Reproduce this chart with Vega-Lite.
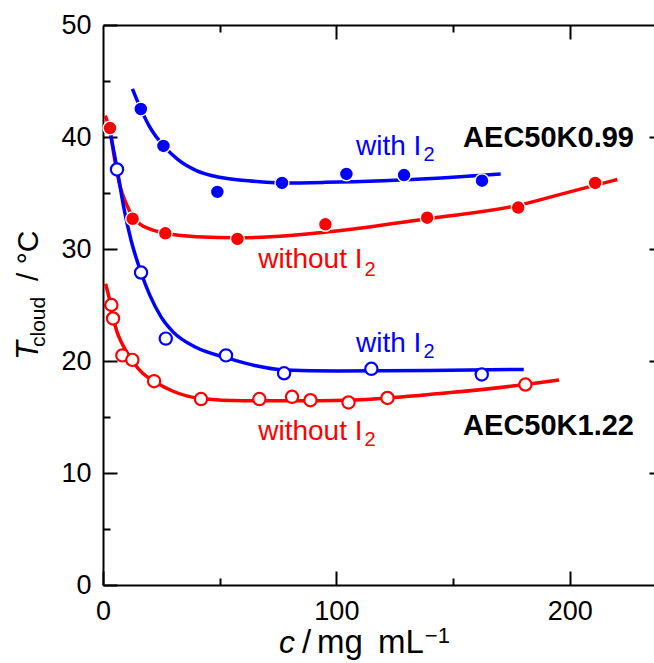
{
  "$schema": "https://vega.github.io/schema/vega-lite/v6.json",
  "width": 551,
  "height": 560,
  "autosize": {"type": "none"},
  "padding": {"left": 103, "top": 25, "right": 0, "bottom": 78},
  "background": "white",
  "config": {
    "view": {"stroke": null},
    "font": "Liberation Sans",
    "axis": {
      "grid": false,
      "domainColor": "black",
      "domainWidth": 2,
      "tickColor": "black",
      "tickWidth": 2,
      "labelColor": "black",
      "labelFont": "Liberation Sans",
      "labelFontSize": 27,
      "labelFlush": false,
      "labelOverlap": false
    }
  },
  "datasets": {
    "curves": [
      {"sample": "AEC50K0.99", "iodine": "with", "c": 12.6, "T": 44.3},
      {"sample": "AEC50K0.99", "iodine": "with", "c": 16, "T": 42.6},
      {"sample": "AEC50K0.99", "iodine": "with", "c": 20, "T": 40.9},
      {"sample": "AEC50K0.99", "iodine": "with", "c": 26, "T": 39.2},
      {"sample": "AEC50K0.99", "iodine": "with", "c": 32, "T": 38.0},
      {"sample": "AEC50K0.99", "iodine": "with", "c": 40, "T": 37.0},
      {"sample": "AEC50K0.99", "iodine": "with", "c": 50, "T": 36.4},
      {"sample": "AEC50K0.99", "iodine": "with", "c": 62, "T": 36.1},
      {"sample": "AEC50K0.99", "iodine": "with", "c": 77, "T": 35.9},
      {"sample": "AEC50K0.99", "iodine": "with", "c": 95, "T": 35.95},
      {"sample": "AEC50K0.99", "iodine": "with", "c": 120, "T": 36.1},
      {"sample": "AEC50K0.99", "iodine": "with", "c": 145, "T": 36.35},
      {"sample": "AEC50K0.99", "iodine": "with", "c": 170.4, "T": 36.7},
      {"sample": "AEC50K0.99", "iodine": "without", "c": 1, "T": 41.9},
      {"sample": "AEC50K0.99", "iodine": "without", "c": 3, "T": 40.5},
      {"sample": "AEC50K0.99", "iodine": "without", "c": 5, "T": 38.0},
      {"sample": "AEC50K0.99", "iodine": "without", "c": 7.3, "T": 35.6},
      {"sample": "AEC50K0.99", "iodine": "without", "c": 10, "T": 34.0},
      {"sample": "AEC50K0.99", "iodine": "without", "c": 12.7, "T": 32.9},
      {"sample": "AEC50K0.99", "iodine": "without", "c": 16, "T": 32.2},
      {"sample": "AEC50K0.99", "iodine": "without", "c": 20, "T": 31.8},
      {"sample": "AEC50K0.99", "iodine": "without", "c": 26.7, "T": 31.4},
      {"sample": "AEC50K0.99", "iodine": "without", "c": 40, "T": 31.1},
      {"sample": "AEC50K0.99", "iodine": "without", "c": 58, "T": 31.0},
      {"sample": "AEC50K0.99", "iodine": "without", "c": 80, "T": 31.2},
      {"sample": "AEC50K0.99", "iodine": "without", "c": 100, "T": 31.6},
      {"sample": "AEC50K0.99", "iodine": "without", "c": 139, "T": 32.7},
      {"sample": "AEC50K0.99", "iodine": "without", "c": 178, "T": 33.9},
      {"sample": "AEC50K0.99", "iodine": "without", "c": 200, "T": 35.1},
      {"sample": "AEC50K0.99", "iodine": "without", "c": 220.4, "T": 36.2},
      {"sample": "AEC50K1.22", "iodine": "with", "c": 3.3, "T": 40.2},
      {"sample": "AEC50K1.22", "iodine": "with", "c": 6, "T": 37.2},
      {"sample": "AEC50K1.22", "iodine": "with", "c": 9, "T": 33.6},
      {"sample": "AEC50K1.22", "iodine": "with", "c": 12, "T": 30.8},
      {"sample": "AEC50K1.22", "iodine": "with", "c": 16.3, "T": 27.9},
      {"sample": "AEC50K1.22", "iodine": "with", "c": 20, "T": 25.9},
      {"sample": "AEC50K1.22", "iodine": "with", "c": 25, "T": 23.9},
      {"sample": "AEC50K1.22", "iodine": "with", "c": 30, "T": 22.6},
      {"sample": "AEC50K1.22", "iodine": "with", "c": 40, "T": 21.2},
      {"sample": "AEC50K1.22", "iodine": "with", "c": 52.7, "T": 20.3},
      {"sample": "AEC50K1.22", "iodine": "with", "c": 65, "T": 19.6},
      {"sample": "AEC50K1.22", "iodine": "with", "c": 77.6, "T": 19.2},
      {"sample": "AEC50K1.22", "iodine": "with", "c": 100, "T": 19.1},
      {"sample": "AEC50K1.22", "iodine": "with", "c": 140, "T": 19.15},
      {"sample": "AEC50K1.22", "iodine": "with", "c": 180.3, "T": 19.25},
      {"sample": "AEC50K1.22", "iodine": "without", "c": 1.1, "T": 26.9},
      {"sample": "AEC50K1.22", "iodine": "without", "c": 3, "T": 25.3},
      {"sample": "AEC50K1.22", "iodine": "without", "c": 4.3, "T": 23.9},
      {"sample": "AEC50K1.22", "iodine": "without", "c": 6, "T": 22.6},
      {"sample": "AEC50K1.22", "iodine": "without", "c": 8.3, "T": 21.5},
      {"sample": "AEC50K1.22", "iodine": "without", "c": 12.6, "T": 20.0},
      {"sample": "AEC50K1.22", "iodine": "without", "c": 17, "T": 18.9},
      {"sample": "AEC50K1.22", "iodine": "without", "c": 21.9, "T": 18.2},
      {"sample": "AEC50K1.22", "iodine": "without", "c": 30, "T": 17.3},
      {"sample": "AEC50K1.22", "iodine": "without", "c": 42, "T": 16.65},
      {"sample": "AEC50K1.22", "iodine": "without", "c": 60, "T": 16.45},
      {"sample": "AEC50K1.22", "iodine": "without", "c": 81, "T": 16.45},
      {"sample": "AEC50K1.22", "iodine": "without", "c": 105, "T": 16.5},
      {"sample": "AEC50K1.22", "iodine": "without", "c": 122, "T": 16.7},
      {"sample": "AEC50K1.22", "iodine": "without", "c": 150, "T": 17.2},
      {"sample": "AEC50K1.22", "iodine": "without", "c": 181, "T": 17.9},
      {"sample": "AEC50K1.22", "iodine": "without", "c": 195.4, "T": 18.3}
    ],
    "points": [
      {"sample": "AEC50K0.99", "iodine": "with", "c": 16.2, "T": 42.5},
      {"sample": "AEC50K0.99", "iodine": "with", "c": 25.9, "T": 39.2},
      {"sample": "AEC50K0.99", "iodine": "with", "c": 49.0, "T": 35.1},
      {"sample": "AEC50K0.99", "iodine": "with", "c": 76.7, "T": 35.9},
      {"sample": "AEC50K0.99", "iodine": "with", "c": 104.3, "T": 36.7},
      {"sample": "AEC50K0.99", "iodine": "with", "c": 129.0, "T": 36.6},
      {"sample": "AEC50K0.99", "iodine": "with", "c": 162.4, "T": 36.1},
      {"sample": "AEC50K0.99", "iodine": "without", "c": 3.0, "T": 40.8},
      {"sample": "AEC50K0.99", "iodine": "without", "c": 12.7, "T": 32.7},
      {"sample": "AEC50K0.99", "iodine": "without", "c": 26.7, "T": 31.4},
      {"sample": "AEC50K0.99", "iodine": "without", "c": 57.6, "T": 30.9},
      {"sample": "AEC50K0.99", "iodine": "without", "c": 95.3, "T": 32.2},
      {"sample": "AEC50K0.99", "iodine": "without", "c": 138.9, "T": 32.8},
      {"sample": "AEC50K0.99", "iodine": "without", "c": 177.9, "T": 33.7},
      {"sample": "AEC50K0.99", "iodine": "without", "c": 210.9, "T": 35.9},
      {"sample": "AEC50K1.22", "iodine": "with", "c": 6.0, "T": 37.1},
      {"sample": "AEC50K1.22", "iodine": "with", "c": 16.3, "T": 27.9},
      {"sample": "AEC50K1.22", "iodine": "with", "c": 26.9, "T": 22.0},
      {"sample": "AEC50K1.22", "iodine": "with", "c": 52.7, "T": 20.5},
      {"sample": "AEC50K1.22", "iodine": "with", "c": 77.6, "T": 18.9},
      {"sample": "AEC50K1.22", "iodine": "with", "c": 115.0, "T": 19.3},
      {"sample": "AEC50K1.22", "iodine": "with", "c": 162.3, "T": 18.8},
      {"sample": "AEC50K1.22", "iodine": "without", "c": 3.6, "T": 25.0},
      {"sample": "AEC50K1.22", "iodine": "without", "c": 4.3, "T": 23.8},
      {"sample": "AEC50K1.22", "iodine": "without", "c": 8.3, "T": 20.5},
      {"sample": "AEC50K1.22", "iodine": "without", "c": 12.6, "T": 20.1},
      {"sample": "AEC50K1.22", "iodine": "without", "c": 21.9, "T": 18.2},
      {"sample": "AEC50K1.22", "iodine": "without", "c": 42.0, "T": 16.6},
      {"sample": "AEC50K1.22", "iodine": "without", "c": 67.0, "T": 16.6},
      {"sample": "AEC50K1.22", "iodine": "without", "c": 81.0, "T": 16.8},
      {"sample": "AEC50K1.22", "iodine": "without", "c": 88.9, "T": 16.5},
      {"sample": "AEC50K1.22", "iodine": "without", "c": 105.2, "T": 16.3},
      {"sample": "AEC50K1.22", "iodine": "without", "c": 121.9, "T": 16.7},
      {"sample": "AEC50K1.22", "iodine": "without", "c": 181.0, "T": 17.9}
    ],
    "labels": [
      {"role": "ann", "text": "with I", "iodine": "with", "x": 108.4, "y": 38.39},
      {"role": "ann", "text": "without I", "iodine": "without", "x": 66.5, "y": 28.28},
      {"role": "ann", "text": "with I", "iodine": "with", "x": 108.4, "y": 20.83},
      {"role": "ann", "text": "without I", "iodine": "without", "x": 66.5, "y": 12.95},
      {"role": "sub", "text": "2", "iodine": "with", "x": 137.3, "y": 37.86},
      {"role": "sub", "text": "2", "iodine": "without", "x": 112.0, "y": 27.59},
      {"role": "sub", "text": "2", "iodine": "with", "x": 137.3, "y": 20.31},
      {"role": "sub", "text": "2", "iodine": "without", "x": 112.0, "y": 12.41},
      {"role": "sample", "text": "AEC50K0.99", "x": 154.3, "y": 39.13},
      {"role": "sample", "text": "AEC50K1.22", "x": 154.3, "y": 13.39},
      {"role": "xi", "text": "c", "x": 75.4, "y": -6.07},
      {"role": "xt", "text": "/", "x": 85.3, "y": -6.07},
      {"role": "xt", "text": "mg", "x": 91.7, "y": -6.07},
      {"role": "xt", "text": "mL", "x": 117.8, "y": -6.07},
      {"role": "xsup", "text": "−1", "x": 137.9, "y": -5.18},
      {"role": "yi", "text": "T", "x": -27.85, "y": 20.09},
      {"role": "ysub", "text": "cloud", "x": -24.85, "y": 21.25},
      {"role": "yt", "text": "/ °C", "x": -27.85, "y": 27.14}
    ]
  },
  "layer": [
    {
      "data": {"name": "curves"},
      "mark": {"type": "line", "strokeWidth": 3.5, "interpolate": "monotone"},
      "encoding": {
        "x": {"field": "c", "type": "quantitative", "scale": {"domain": [0, 236.1], "nice": false, "zero": false},
              "axis": {"orient": "bottom", "values": [0, 100, 200], "tickSize": -14, "labelPadding": 27, "title": null}},
        "y": {"field": "T", "type": "quantitative", "scale": {"domain": [0, 50], "nice": false, "zero": false},
              "axis": {"orient": "left", "values": [0, 10, 20, 30, 40, 50], "tickSize": -14, "labelPadding": 26, "title": null}},
        "color": {"field": "iodine", "type": "nominal", "scale": {"domain": ["with", "without"], "range": ["#0000ff", "#ff0000"]}, "legend": null},
        "detail": {"field": "sample"}
      }
    },
    {
      "data": {"name": "points"},
      "transform": [{"filter": "datum.sample === 'AEC50K0.99'"}],
      "mark": {"type": "point", "filled": true, "opacity": 1, "size": 190, "stroke": "white", "strokeWidth": 1.3, "strokeOpacity": 1},
      "encoding": {
        "x": {"field": "c", "type": "quantitative", "scale": {"domain": [0, 236.1], "nice": false, "zero": false},
              "axis": {"orient": "bottom", "values": [50, 150], "tickSize": -7, "labels": false, "domain": false, "title": null}},
        "y": {"field": "T", "type": "quantitative", "scale": {"domain": [0, 50], "nice": false, "zero": false},
              "axis": {"orient": "left", "values": [5, 15, 25, 35, 45], "tickSize": -7, "labels": false, "domain": false, "title": null}},
        "color": {"field": "iodine", "type": "nominal", "scale": {"domain": ["with", "without"], "range": ["#0000ff", "#ff0000"]}, "legend": null}
      }
    },
    {
      "data": {"name": "points"},
      "transform": [{"filter": "datum.sample === 'AEC50K1.22'"}],
      "mark": {"type": "point", "filled": false, "fill": "white", "fillOpacity": 1, "opacity": 1, "size": 150, "strokeWidth": 2.2},
      "encoding": {
        "x": {"field": "c", "type": "quantitative", "scale": {"domain": [0, 236.1], "nice": false, "zero": false},
              "axis": {"orient": "top", "values": [100, 200], "tickSize": -14, "labels": false, "domain": true, "title": null}},
        "y": {"field": "T", "type": "quantitative", "scale": {"domain": [0, 50], "nice": false, "zero": false},
              "axis": {"orient": "right", "values": [10, 20, 30, 40], "tickSize": -5, "labels": false, "domain": false, "title": null}},
        "stroke": {"field": "iodine", "type": "nominal", "scale": {"domain": ["with", "without"], "range": ["#0000ff", "#ff0000"]}, "legend": null}
      }
    },
    {
      "data": {"name": "labels"},
      "transform": [{"filter": "datum.role === 'ann'"}],
      "mark": {"type": "text", "align": "left", "baseline": "alphabetic", "fontSize": 28, "font": "Liberation Sans"},
      "encoding": {
        "x": {"field": "x", "type": "quantitative", "scale": {"domain": [0, 236.1], "nice": false, "zero": false},
              "axis": {"orient": "top", "values": [50, 150], "tickSize": -7, "labels": false, "domain": false, "title": null}},
        "y": {"field": "y", "type": "quantitative", "scale": {"domain": [0, 50], "nice": false, "zero": false}, "axis": null},
        "text": {"field": "text"},
        "color": {"field": "iodine", "type": "nominal", "scale": {"domain": ["with", "without"], "range": ["#0000ff", "#ff0000"]}, "legend": null}
      }
    },
    {
      "data": {"name": "labels"},
      "transform": [{"filter": "datum.role === 'sub'"}],
      "mark": {"type": "text", "align": "left", "baseline": "alphabetic", "fontSize": 20, "font": "Liberation Sans"},
      "encoding": {
        "x": {"field": "x", "type": "quantitative", "scale": {"domain": [0, 236.1], "nice": false, "zero": false}, "axis": null},
        "y": {"field": "y", "type": "quantitative", "scale": {"domain": [0, 50], "nice": false, "zero": false}, "axis": null},
        "text": {"field": "text"},
        "color": {"field": "iodine", "type": "nominal", "scale": {"domain": ["with", "without"], "range": ["#0000ff", "#ff0000"]}, "legend": null}
      }
    },
    {
      "data": {"name": "labels"},
      "transform": [{"filter": "datum.role === 'sample'"}],
      "mark": {"type": "text", "align": "left", "baseline": "alphabetic", "fontSize": 29, "fontWeight": "bold", "font": "Liberation Sans", "color": "black"},
      "encoding": {
        "x": {"field": "x", "type": "quantitative", "scale": {"domain": [0, 236.1], "nice": false, "zero": false}, "axis": null},
        "y": {"field": "y", "type": "quantitative", "scale": {"domain": [0, 50], "nice": false, "zero": false}, "axis": null},
        "text": {"field": "text"}
      }
    },
    {
      "data": {"name": "labels"},
      "transform": [{"filter": "datum.role === 'xi'"}],
      "mark": {"type": "text", "align": "left", "baseline": "alphabetic", "fontSize": 32, "fontStyle": "italic", "font": "Liberation Sans", "color": "black"},
      "encoding": {
        "x": {"field": "x", "type": "quantitative", "scale": {"domain": [0, 236.1], "nice": false, "zero": false}, "axis": null},
        "y": {"field": "y", "type": "quantitative", "scale": {"domain": [0, 50], "nice": false, "zero": false}, "axis": null},
        "text": {"field": "text"}
      }
    },
    {
      "data": {"name": "labels"},
      "transform": [{"filter": "datum.role === 'xt'"}],
      "mark": {"type": "text", "align": "left", "baseline": "alphabetic", "fontSize": 33, "font": "Liberation Sans", "color": "black"},
      "encoding": {
        "x": {"field": "x", "type": "quantitative", "scale": {"domain": [0, 236.1], "nice": false, "zero": false}, "axis": null},
        "y": {"field": "y", "type": "quantitative", "scale": {"domain": [0, 50], "nice": false, "zero": false}, "axis": null},
        "text": {"field": "text"}
      }
    },
    {
      "data": {"name": "labels"},
      "transform": [{"filter": "datum.role === 'xsup'"}],
      "mark": {"type": "text", "align": "left", "baseline": "alphabetic", "fontSize": 22, "font": "Liberation Sans", "color": "black"},
      "encoding": {
        "x": {"field": "x", "type": "quantitative", "scale": {"domain": [0, 236.1], "nice": false, "zero": false}, "axis": null},
        "y": {"field": "y", "type": "quantitative", "scale": {"domain": [0, 50], "nice": false, "zero": false}, "axis": null},
        "text": {"field": "text"}
      }
    },
    {
      "data": {"name": "labels"},
      "transform": [{"filter": "datum.role === 'yi'"}],
      "mark": {"type": "text", "align": "left", "baseline": "alphabetic", "angle": 270, "fontSize": 31, "fontStyle": "italic", "font": "Liberation Sans", "color": "black"},
      "encoding": {
        "x": {"field": "x", "type": "quantitative", "scale": {"domain": [0, 236.1], "nice": false, "zero": false}, "axis": null},
        "y": {"field": "y", "type": "quantitative", "scale": {"domain": [0, 50], "nice": false, "zero": false}, "axis": null},
        "text": {"field": "text"}
      }
    },
    {
      "data": {"name": "labels"},
      "transform": [{"filter": "datum.role === 'ysub'"}],
      "mark": {"type": "text", "align": "left", "baseline": "alphabetic", "angle": 270, "fontSize": 21, "font": "Liberation Sans", "color": "black"},
      "encoding": {
        "x": {"field": "x", "type": "quantitative", "scale": {"domain": [0, 236.1], "nice": false, "zero": false}, "axis": null},
        "y": {"field": "y", "type": "quantitative", "scale": {"domain": [0, 50], "nice": false, "zero": false}, "axis": null},
        "text": {"field": "text"}
      }
    },
    {
      "data": {"name": "labels"},
      "transform": [{"filter": "datum.role === 'yt'"}],
      "mark": {"type": "text", "align": "left", "baseline": "alphabetic", "angle": 270, "fontSize": 30, "font": "Liberation Sans", "color": "black"},
      "encoding": {
        "x": {"field": "x", "type": "quantitative", "scale": {"domain": [0, 236.1], "nice": false, "zero": false}, "axis": null},
        "y": {"field": "y", "type": "quantitative", "scale": {"domain": [0, 50], "nice": false, "zero": false}, "axis": null},
        "text": {"field": "text"}
      }
    }
  ],
  "resolve": {"axis": {"x": "independent", "y": "independent"}}
}
